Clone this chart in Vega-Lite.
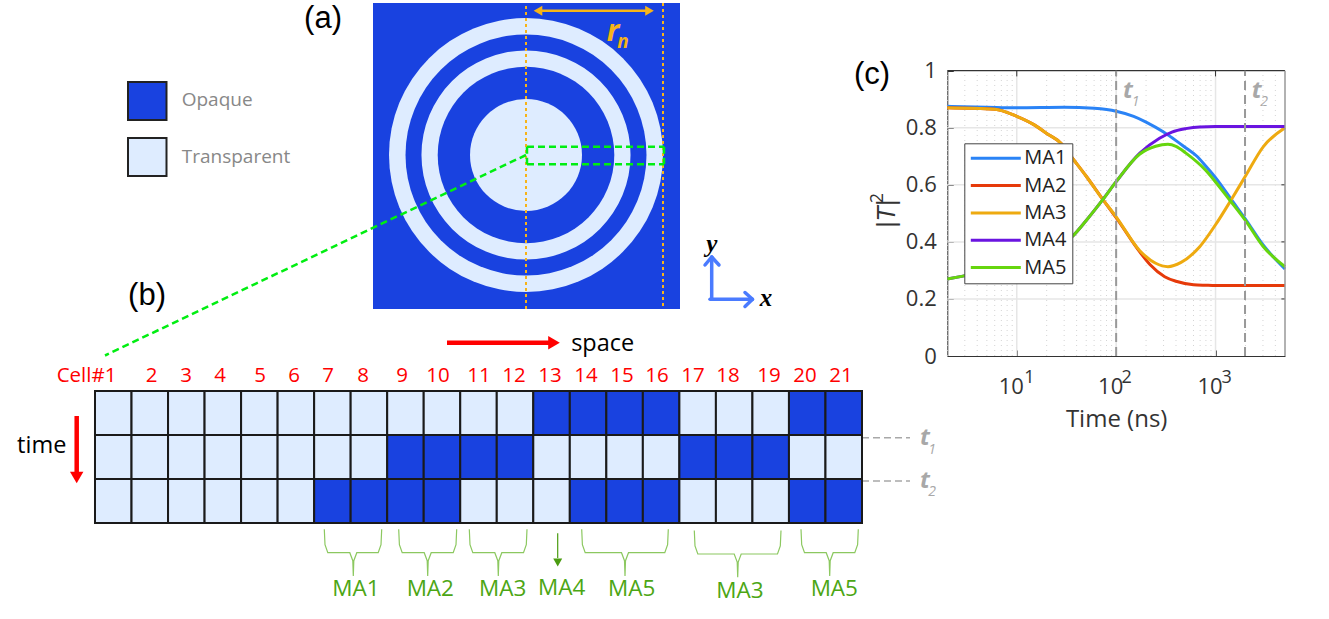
{"$schema":"https://vega.github.io/schema/vega-lite/v6.json","width":1329,"height":619,"padding":0,"autosize":{"type":"none"},"background":"white","config":{"view":{"stroke":null}},
"layer":[
{"layer":[
{"data":{"values":[{"state":"Opaque","x":373,"x2":680,"y":3,"y2":309}]},"mark":{"type":"rect"},"encoding":{"x":{"field":"x","type":"quantitative","scale":{"domain":[0,1329],"range":[0,1329],"nice":false},"axis":null},"x2":{"field":"x2"},"y":{"field":"y","type":"quantitative","scale":{"domain":[0,619],"range":[0,619],"nice":false},"axis":null},"y2":{"field":"y2"},"color":{"field":"state","type":"nominal","scale":{"domain":["Opaque","Transparent"],"range":["#1942E0","#DEECFF"]},"legend":null}}},
{"data":{"values":[{"state":"Opaque","x":128,"x2":166.5,"y":82,"y2":120},{"state":"Transparent","x":128,"x2":166.5,"y":138,"y2":176}]},"mark":{"type":"rect","stroke":"#222222","strokeWidth":2},"encoding":{"x":{"field":"x","type":"quantitative","axis":null},"x2":{"field":"x2"},"y":{"field":"y","type":"quantitative","axis":null},"y2":{"field":"y2"},"color":{"field":"state","type":"nominal","legend":null}}},
{"data":{"values":[{"state":"Transparent","x":526,"y":155,"r":137},{"state":"Opaque","x":526,"y":155,"r":120.5},{"state":"Transparent","x":526,"y":155,"r":104.5},{"state":"Opaque","x":526,"y":155,"r":88.3},{"state":"Transparent","x":526,"y":155,"r":56}]},"mark":{"type":"arc","theta":0,"theta2":6.2832},"encoding":{"x":{"field":"x","type":"quantitative","axis":null},"y":{"field":"y","type":"quantitative","axis":null},"radius":{"field":"r","type":"quantitative","stack":null,"scale":{"type":"linear","domain":[0,150],"range":[0,150]},"legend":null},"color":{"field":"state","type":"nominal","legend":null}}},
{"data":{"values":[{"x":526,"x2":526,"y":6,"y2":311},{"x":663,"x2":663,"y":3,"y2":309}]},"mark":{"type":"rule","color":"#F7B418","strokeWidth":2,"strokeDash":[3,3]},"encoding":{"x":{"field":"x","type":"quantitative","axis":null},"x2":{"field":"x2"},"y":{"field":"y","type":"quantitative","axis":null},"y2":{"field":"y2"}}},
{"data":{"values":[{"x":537,"x2":650,"y":10.7,"y2":10.7}]},"mark":{"type":"rule","color":"#F7B418","strokeWidth":2.4},"encoding":{"x":{"field":"x","type":"quantitative","axis":null},"x2":{"field":"x2"},"y":{"field":"y","type":"quantitative","axis":null},"y2":{"field":"y2"}}},
{"data":{"values":[{"x":538,"y":10.7,"shape":"triangle-left"},{"x":649.5,"y":10.7,"shape":"triangle-right"}]},"mark":{"type":"point","filled":true,"opacity":1,"color":"#F7B418","size":100},"encoding":{"x":{"field":"x","type":"quantitative","axis":null},"y":{"field":"y","type":"quantitative","axis":null},"shape":{"field":"shape","type":"nominal","scale":null}}},
{"data":{"values":[{"x":527,"x2":664,"y":146.7,"y2":146.7},{"x":527,"x2":664,"y":164.3,"y2":164.3},{"x":527,"x2":527,"y":146.7,"y2":164.3},{"x":664,"x2":664,"y":146.7,"y2":164.3},{"x":526,"x2":105,"y":155,"y2":355.5}]},"mark":{"type":"rule","color":"#00EE11","strokeWidth":2.5,"strokeDash":[7,4]},"encoding":{"x":{"field":"x","type":"quantitative","axis":null},"x2":{"field":"x2"},"y":{"field":"y","type":"quantitative","axis":null},"y2":{"field":"y2"}}},
{"data":{"values":[{"x":711.7,"x2":711.7,"y":299.3,"y2":257},{"x":710,"x2":752,"y":299.3,"y2":299.3},{"x":711.7,"x2":705,"y":257,"y2":265},{"x":711.7,"x2":719,"y":257,"y2":265},{"x":752.5,"x2":745,"y":299.3,"y2":292.5},{"x":752.5,"x2":745,"y":299.3,"y2":306.5}]},"mark":{"type":"rule","color":"#4A7BFF","strokeWidth":3.5,"strokeCap":"round"},"encoding":{"x":{"field":"x","type":"quantitative","axis":null},"x2":{"field":"x2"},"y":{"field":"y","type":"quantitative","axis":null},"y2":{"field":"y2"}}},
{"data":{"values":[{"x":447,"x2":549,"y":342.7,"y2":342.7},{"x":76.7,"x2":76.7,"y":416,"y2":472}]},"mark":{"type":"rule","color":"#FF0000","strokeWidth":4.5},"encoding":{"x":{"field":"x","type":"quantitative","axis":null},"x2":{"field":"x2"},"y":{"field":"y","type":"quantitative","axis":null},"y2":{"field":"y2"}}},
{"data":{"values":[{"x":554,"y":342.7,"shape":"triangle-right"},{"x":76.7,"y":477.5,"shape":"triangle-down"}]},"mark":{"type":"point","filled":true,"opacity":1,"color":"#FF0000","size":180},"encoding":{"x":{"field":"x","type":"quantitative","axis":null},"y":{"field":"y","type":"quantitative","axis":null},"shape":{"field":"shape","type":"nominal","scale":null}}},
{"data":{"values":[{"x":557.7,"x2":557.7,"y":533.3,"y2":558}]},"mark":{"type":"rule","color":"#4A9C10","strokeWidth":1.2},"encoding":{"x":{"field":"x","type":"quantitative","axis":null},"x2":{"field":"x2"},"y":{"field":"y","type":"quantitative","axis":null},"y2":{"field":"y2"}}},
{"data":{"values":[{"x":557.7,"y":562.5}]},"mark":{"type":"point","filled":true,"opacity":1,"color":"#4A9C10","shape":"triangle-down","size":81},"encoding":{"x":{"field":"x","type":"quantitative","axis":null},"y":{"field":"y","type":"quantitative","axis":null}}},
{"data":{"values":[{"x":862,"x2":910,"y":437.7,"y2":437.7},{"x":862,"x2":910,"y":481,"y2":481}]},"mark":{"type":"rule","color":"#A8A8A8","strokeWidth":1.5,"strokeDash":[7,4]},"encoding":{"x":{"field":"x","type":"quantitative","axis":null},"x2":{"field":"x2"},"y":{"field":"y","type":"quantitative","axis":null},"y2":{"field":"y2"}}},
{"data":{"values":[{"b":"a","i":0,"x":324.3,"y":529.3},{"b":"a","i":1,"x":325,"y":544.7},{"b":"a","i":2,"x":327.8,"y":552.7},{"b":"a","i":3,"x":349.8,"y":552.7},{"b":"a","i":4,"x":352.8,"y":560.7},{"b":"a","i":5,"x":353.3,"y":576},{"b":"a","i":6,"x":353.8,"y":560.7},{"b":"a","i":7,"x":356.8,"y":552.7},{"b":"a","i":8,"x":378.2,"y":552.7},{"b":"a","i":9,"x":381,"y":544.7},{"b":"a","i":10,"x":381.7,"y":529.3},
{"b":"b","i":0,"x":398.7,"y":529.3},{"b":"b","i":1,"x":399.4,"y":544.7},{"b":"b","i":2,"x":402.2,"y":552.7},{"b":"b","i":3,"x":424.2,"y":552.7},{"b":"b","i":4,"x":427.2,"y":560.7},{"b":"b","i":5,"x":427.7,"y":576},{"b":"b","i":6,"x":428.2,"y":560.7},{"b":"b","i":7,"x":431.2,"y":552.7},{"b":"b","i":8,"x":453.2,"y":552.7},{"b":"b","i":9,"x":456,"y":544.7},{"b":"b","i":10,"x":456.7,"y":529.3},
{"b":"c","i":0,"x":469.3,"y":529.3},{"b":"c","i":1,"x":470,"y":544.7},{"b":"c","i":2,"x":472.8,"y":552.7},{"b":"c","i":3,"x":494.8,"y":552.7},{"b":"c","i":4,"x":497.8,"y":560.7},{"b":"c","i":5,"x":498.3,"y":576},{"b":"c","i":6,"x":498.8,"y":560.7},{"b":"c","i":7,"x":501.8,"y":552.7},{"b":"c","i":8,"x":523.5,"y":552.7},{"b":"c","i":9,"x":526.3,"y":544.7},{"b":"c","i":10,"x":527,"y":529.3},
{"b":"d","i":0,"x":581.7,"y":529.3},{"b":"d","i":1,"x":582.4,"y":544.7},{"b":"d","i":2,"x":585.2,"y":552.7},{"b":"d","i":3,"x":621.5,"y":552.7},{"b":"d","i":4,"x":624.5,"y":560.7},{"b":"d","i":5,"x":625,"y":576},{"b":"d","i":6,"x":625.5,"y":560.7},{"b":"d","i":7,"x":628.5,"y":552.7},{"b":"d","i":8,"x":664.8,"y":552.7},{"b":"d","i":9,"x":667.6,"y":544.7},{"b":"d","i":10,"x":668.3,"y":529.3},
{"b":"e","i":0,"x":694.3,"y":530.5},{"b":"e","i":1,"x":695,"y":546},{"b":"e","i":2,"x":697.8,"y":554},{"b":"e","i":3,"x":734.2,"y":554},{"b":"e","i":4,"x":737.2,"y":562},{"b":"e","i":5,"x":737.7,"y":577.3},{"b":"e","i":6,"x":738.2,"y":562},{"b":"e","i":7,"x":741.2,"y":554},{"b":"e","i":8,"x":777.5,"y":554},{"b":"e","i":9,"x":780.3,"y":546},{"b":"e","i":10,"x":781,"y":530.5},
{"b":"f","i":0,"x":801,"y":529.3},{"b":"f","i":1,"x":801.7,"y":544.7},{"b":"f","i":2,"x":804.5,"y":552.7},{"b":"f","i":3,"x":826.2,"y":552.7},{"b":"f","i":4,"x":829.2,"y":560.7},{"b":"f","i":5,"x":829.7,"y":576},{"b":"f","i":6,"x":830.2,"y":560.7},{"b":"f","i":7,"x":833.2,"y":552.7},{"b":"f","i":8,"x":854.8,"y":552.7},{"b":"f","i":9,"x":857.6,"y":544.7},{"b":"f","i":10,"x":858.3,"y":529.3}]},"mark":{"type":"line","color":"#8CC860","strokeWidth":1.2},"encoding":{"x":{"field":"x","type":"quantitative","axis":null},"y":{"field":"y","type":"quantitative","axis":null},"detail":{"field":"b"},"order":{"field":"i"}}},
{"data":{"values":[{"l":"Cell#1","x":86.5,"y":376},{"l":"2","x":151.7,"y":376},{"l":"3","x":186,"y":376},{"l":"4","x":220,"y":376},{"l":"5","x":260,"y":376},{"l":"6","x":294,"y":376},{"l":"7","x":328,"y":376},{"l":"8","x":363,"y":376},{"l":"9","x":402,"y":376},{"l":"10","x":438,"y":376},{"l":"11","x":479,"y":376},{"l":"12","x":514,"y":376},{"l":"13","x":550,"y":376},{"l":"14","x":586,"y":376},{"l":"15","x":622,"y":376},{"l":"16","x":657,"y":376},{"l":"17","x":693,"y":376},{"l":"18","x":728,"y":376},{"l":"19","x":769,"y":376},{"l":"20","x":805,"y":376},{"l":"21","x":841,"y":376}]},"mark":{"type":"text","font":"Open Sans","fontSize":20.5,"color":"#FF0000"},"encoding":{"x":{"field":"x","type":"quantitative","axis":null},"y":{"field":"y","type":"quantitative","axis":null},"text":{"field":"l"}}},
{"data":{"values":[{"l":"MA1","x":356,"y":589.3},{"l":"MA2","x":430.3,"y":589.3},{"l":"MA3","x":502.7,"y":589.3},{"l":"MA4","x":561.7,"y":587.7},{"l":"MA5","x":631.7,"y":589.3},{"l":"MA3","x":740,"y":590.7},{"l":"MA5","x":834.3,"y":589.3}]},"mark":{"type":"text","font":"Open Sans","fontSize":22.5,"color":"#4CA614"},"encoding":{"x":{"field":"x","type":"quantitative","axis":null},"y":{"field":"y","type":"quantitative","axis":null},"text":{"field":"l"}}},
{"data":{"values":[{"l":"Opaque","x":181.7,"y":99.5},{"l":"Transparent","x":181.7,"y":156.7}]},"mark":{"type":"text","font":"Open Sans","fontSize":19,"color":"#888888","align":"left"},"encoding":{"x":{"field":"x","type":"quantitative","axis":null},"y":{"field":"y","type":"quantitative","axis":null},"text":{"field":"l"}}},
{"data":{"values":[{"l":"space","x":602.7,"y":344},{"l":"time","x":41.7,"y":445.7}]},"mark":{"type":"text","font":"Open Sans","fontSize":23.5,"color":"#000000"},"encoding":{"x":{"field":"x","type":"quantitative","axis":null},"y":{"field":"y","type":"quantitative","axis":null},"text":{"field":"l"}}},
{"data":{"values":[{"l":"(a)","x":323,"y":19},{"l":"(b)","x":147,"y":296},{"l":"(c)","x":872,"y":75}]},"mark":{"type":"text","font":"Liberation Sans","fontSize":31,"color":"#000000"},"encoding":{"x":{"field":"x","type":"quantitative","axis":null},"y":{"field":"y","type":"quantitative","axis":null},"text":{"field":"l"}}},
{"data":{"values":[{"l":"r","x":613,"y":32}]},"mark":{"type":"text","font":"Open Sans","fontStyle":"italic","fontWeight":"bold","fontSize":30,"color":"#F7B418"},"encoding":{"x":{"field":"x","type":"quantitative","axis":null},"y":{"field":"y","type":"quantitative","axis":null},"text":{"field":"l"}}},
{"data":{"values":[{"l":"n","x":623,"y":41.5}]},"mark":{"type":"text","font":"Open Sans","fontStyle":"italic","fontWeight":"bold","fontSize":19,"color":"#F7B418"},"encoding":{"x":{"field":"x","type":"quantitative","axis":null},"y":{"field":"y","type":"quantitative","axis":null},"text":{"field":"l"}}},
{"data":{"values":[{"l":"y","x":711.7,"y":244},{"l":"x","x":766,"y":298}]},"mark":{"type":"text","font":"Liberation Serif","fontStyle":"italic","fontWeight":"bold","fontSize":25,"color":"#000000"},"encoding":{"x":{"field":"x","type":"quantitative","axis":null},"y":{"field":"y","type":"quantitative","axis":null},"text":{"field":"l"}}},
{"data":{"values":[{"l":"t","x":925,"y":438},{"l":"t","x":925,"y":480.7},{"l":"t","x":1128,"y":91},{"l":"t","x":1256.7,"y":91}]},"mark":{"type":"text","font":"Open Sans","fontStyle":"italic","fontWeight":"bold","fontSize":24,"color":"#A8A8A8"},"encoding":{"x":{"field":"x","type":"quantitative","axis":null},"y":{"field":"y","type":"quantitative","axis":null},"text":{"field":"l"}}},
{"data":{"values":[{"l":"1","x":932,"y":450},{"l":"2","x":932,"y":492},{"l":"1","x":1135.7,"y":101.7},{"l":"2","x":1264,"y":101.7}]},"mark":{"type":"text","font":"Open Sans","fontStyle":"italic","fontSize":14,"color":"#A8A8A8"},"encoding":{"x":{"field":"x","type":"quantitative","axis":null},"y":{"field":"y","type":"quantitative","axis":null},"text":{"field":"l"}}},
{"data":{"values":[{"l":"1","x":1029.5,"y":378},{"l":"2","x":1126.7,"y":378},{"l":"3","x":1226.7,"y":378}]},"mark":{"type":"text","font":"Open Sans","fontSize":18,"color":"#333333"},"encoding":{"x":{"field":"x","type":"quantitative","axis":null},"y":{"field":"y","type":"quantitative","axis":null},"text":{"field":"l"}}},
{"data":{"values":[{"l":"2","x":878,"y":198}]},"mark":{"type":"text","font":"Open Sans","fontSize":18,"color":"#333333","angle":270},"encoding":{"x":{"field":"x","type":"quantitative","axis":null},"y":{"field":"y","type":"quantitative","axis":null},"text":{"field":"l"}}}
]},
{"data":{"values":[
{"c":1,"r":0,"state":"Transparent"},{"c":2,"r":0,"state":"Transparent"},{"c":3,"r":0,"state":"Transparent"},{"c":4,"r":0,"state":"Transparent"},{"c":5,"r":0,"state":"Transparent"},{"c":6,"r":0,"state":"Transparent"},{"c":7,"r":0,"state":"Transparent"},{"c":8,"r":0,"state":"Transparent"},{"c":9,"r":0,"state":"Transparent"},{"c":10,"r":0,"state":"Transparent"},{"c":11,"r":0,"state":"Transparent"},{"c":12,"r":0,"state":"Transparent"},{"c":13,"r":0,"state":"Opaque"},{"c":14,"r":0,"state":"Opaque"},{"c":15,"r":0,"state":"Opaque"},{"c":16,"r":0,"state":"Opaque"},{"c":17,"r":0,"state":"Transparent"},{"c":18,"r":0,"state":"Transparent"},{"c":19,"r":0,"state":"Transparent"},{"c":20,"r":0,"state":"Opaque"},{"c":21,"r":0,"state":"Opaque"},
{"c":1,"r":1,"state":"Transparent"},{"c":2,"r":1,"state":"Transparent"},{"c":3,"r":1,"state":"Transparent"},{"c":4,"r":1,"state":"Transparent"},{"c":5,"r":1,"state":"Transparent"},{"c":6,"r":1,"state":"Transparent"},{"c":7,"r":1,"state":"Transparent"},{"c":8,"r":1,"state":"Transparent"},{"c":9,"r":1,"state":"Opaque"},{"c":10,"r":1,"state":"Opaque"},{"c":11,"r":1,"state":"Opaque"},{"c":12,"r":1,"state":"Opaque"},{"c":13,"r":1,"state":"Transparent"},{"c":14,"r":1,"state":"Transparent"},{"c":15,"r":1,"state":"Transparent"},{"c":16,"r":1,"state":"Transparent"},{"c":17,"r":1,"state":"Opaque"},{"c":18,"r":1,"state":"Opaque"},{"c":19,"r":1,"state":"Opaque"},{"c":20,"r":1,"state":"Transparent"},{"c":21,"r":1,"state":"Transparent"},
{"c":1,"r":2,"state":"Transparent"},{"c":2,"r":2,"state":"Transparent"},{"c":3,"r":2,"state":"Transparent"},{"c":4,"r":2,"state":"Transparent"},{"c":5,"r":2,"state":"Transparent"},{"c":6,"r":2,"state":"Transparent"},{"c":7,"r":2,"state":"Opaque"},{"c":8,"r":2,"state":"Opaque"},{"c":9,"r":2,"state":"Opaque"},{"c":10,"r":2,"state":"Opaque"},{"c":11,"r":2,"state":"Transparent"},{"c":12,"r":2,"state":"Transparent"},{"c":13,"r":2,"state":"Transparent"},{"c":14,"r":2,"state":"Opaque"},{"c":15,"r":2,"state":"Opaque"},{"c":16,"r":2,"state":"Opaque"},{"c":17,"r":2,"state":"Transparent"},{"c":18,"r":2,"state":"Transparent"},{"c":19,"r":2,"state":"Transparent"},{"c":20,"r":2,"state":"Opaque"},{"c":21,"r":2,"state":"Opaque"}]},
"mark":{"type":"rect","stroke":"#1A1A1A","strokeWidth":2},"encoding":{"x":{"field":"c","type":"ordinal","sort":"ascending","scale":{"type":"band","range":[95,862],"paddingInner":0,"paddingOuter":0},"axis":null},"y":{"field":"r","type":"ordinal","sort":"ascending","scale":{"type":"band","range":[391,523],"paddingInner":0,"paddingOuter":0},"axis":null},"color":{"field":"state","type":"nominal","scale":{"domain":["Opaque","Transparent"],"range":["#1942E0","#DEECFF"]},"legend":null}}},
{"layer":[
{"data":{"values":[{"t":2},{"t":3},{"t":4},{"t":5},{"t":6},{"t":7},{"t":8},{"t":9},{"t":20},{"t":30},{"t":40},{"t":50},{"t":60},{"t":70},{"t":80},{"t":90},{"t":200},{"t":300},{"t":400},{"t":500},{"t":600},{"t":700},{"t":800},{"t":900},{"t":2000},{"t":3000},{"t":4000}]},"mark":{"type":"rule","color":"#D4D4D4","strokeWidth":1,"strokeDash":[1,4]},"encoding":{"x":{"field":"t","type":"quantitative","scale":{"type":"log","domain":[2,5000],"range":[947.3,1285],"nice":false},"axis":{"orient":"bottom","offset":-263,"values":[10,100,1000],"labelExpr":"'10'","labelFont":"Open Sans","labelFontSize":22,"labelColor":"#333333","labelOffset":-6,"labelPadding":26,"tickSize":-6,"tickColor":"#333333","domain":true,"domainColor":"#333333","grid":false,"title":"Time (ns)","titleFont":"Open Sans","titleFontSize":24,"titleFontWeight":"normal","titleColor":"#333333","titlePadding":10}},"y":{"datum":0,"type":"quantitative","scale":{"domain":[0,1],"range":[356,70.7],"nice":false},"axis":{"orient":"left","offset":-947.3,"values":[0,0.2,0.4,0.6,0.8,1],"format":"~g","labelFont":"Open Sans","labelFontSize":22,"labelColor":"#333333","labelPadding":17,"tickSize":-6,"tickColor":"#333333","domain":true,"domainColor":"#333333","grid":false,"title":"|T|","titleFont":"Liberation Sans","titleFontStyle":"italic","titleFontSize":25,"titleFontWeight":"normal","titleColor":"#333333","titlePadding":6}},"y2":{"datum":1}}},
{"data":{"values":[{"t":10},{"t":100},{"t":1000}]},"mark":{"type":"rule","color":"#E6E6E6","strokeWidth":1.5},"encoding":{"x":{"field":"t","type":"quantitative"},"y":{"datum":0,"type":"quantitative"},"y2":{"datum":1}}},
{"data":{"values":[{"v":0.2},{"v":0.4},{"v":0.6},{"v":0.8}]},"mark":{"type":"rule","color":"#E6E6E6","strokeWidth":1.5},"encoding":{"y":{"field":"v","type":"quantitative"},"x":{"datum":2,"type":"quantitative"},"x2":{"datum":5000}}},
{"data":{"values":[{"t":10},{"t":100},{"t":1000}]},"mark":{"type":"rule","color":"#333333","strokeWidth":1},"encoding":{"x":{"field":"t","type":"quantitative"},"y":{"datum":1,"type":"quantitative"},"y2":{"datum":0.98}}},
{"data":{"values":[{"v":0.2},{"v":0.4},{"v":0.6},{"v":0.8}]},"mark":{"type":"rule","color":"#333333","strokeWidth":1},"encoding":{"y":{"field":"v","type":"quantitative"},"x":{"datum":5000,"type":"quantitative"},"x2":{"datum":4600}}},
{"data":{"values":[{"x":2,"x2":5000,"y":1,"y2":1}]},"mark":{"type":"rule","color":"#333333","strokeWidth":1.2},"encoding":{"x":{"field":"x","type":"quantitative"},"x2":{"field":"x2"},"y":{"field":"y","type":"quantitative"},"y2":{"field":"y2"}}},
{"data":{"values":[
{"s":"MA1","t":2,"v":0.875},{"s":"MA1","t":5,"v":0.872},{"s":"MA1","t":10,"v":0.87},{"s":"MA1","t":30,"v":0.872},{"s":"MA1","t":60,"v":0.868},{"s":"MA1","t":100,"v":0.858},{"s":"MA1","t":150,"v":0.84},{"s":"MA1","t":200,"v":0.82},{"s":"MA1","t":300,"v":0.785},{"s":"MA1","t":400,"v":0.755},{"s":"MA1","t":500,"v":0.73},{"s":"MA1","t":650,"v":0.7},{"s":"MA1","t":800,"v":0.665},{"s":"MA1","t":1000,"v":0.625},{"s":"MA1","t":1500,"v":0.54},{"s":"MA1","t":2000,"v":0.48},{"s":"MA1","t":3000,"v":0.39},{"s":"MA1","t":5000,"v":0.305},
{"s":"MA2","t":2,"v":0.87},{"s":"MA2","t":6,"v":0.865},{"s":"MA2","t":10,"v":0.84},{"s":"MA2","t":15,"v":0.81},{"s":"MA2","t":20,"v":0.78},{"s":"MA2","t":28,"v":0.745},{"s":"MA2","t":36,"v":0.695},{"s":"MA2","t":50,"v":0.63},{"s":"MA2","t":73,"v":0.55},{"s":"MA2","t":100,"v":0.485},{"s":"MA2","t":172,"v":0.366},{"s":"MA2","t":220,"v":0.32},{"s":"MA2","t":308,"v":0.278},{"s":"MA2","t":400,"v":0.262},{"s":"MA2","t":600,"v":0.25},{"s":"MA2","t":800,"v":0.248},{"s":"MA2","t":1000,"v":0.247},{"s":"MA2","t":5000,"v":0.247},
{"s":"MA3","t":2,"v":0.87},{"s":"MA3","t":6,"v":0.865},{"s":"MA3","t":10,"v":0.84},{"s":"MA3","t":15,"v":0.81},{"s":"MA3","t":20,"v":0.78},{"s":"MA3","t":28,"v":0.745},{"s":"MA3","t":36,"v":0.695},{"s":"MA3","t":50,"v":0.63},{"s":"MA3","t":73,"v":0.55},{"s":"MA3","t":100,"v":0.488},{"s":"MA3","t":172,"v":0.37},{"s":"MA3","t":250,"v":0.325},{"s":"MA3","t":332,"v":0.313},{"s":"MA3","t":450,"v":0.328},{"s":"MA3","t":693,"v":0.383},{"s":"MA3","t":1000,"v":0.46},{"s":"MA3","t":1470,"v":0.553},{"s":"MA3","t":1980,"v":0.628},{"s":"MA3","t":3030,"v":0.734},{"s":"MA3","t":5000,"v":0.8},
{"s":"MA4","t":2,"v":0.27},{"s":"MA4","t":2.87,"v":0.28},{"s":"MA4","t":5,"v":0.295},{"s":"MA4","t":10,"v":0.32},{"s":"MA4","t":20,"v":0.365},{"s":"MA4","t":36,"v":0.418},{"s":"MA4","t":50,"v":0.475},{"s":"MA4","t":73,"v":0.547},{"s":"MA4","t":100,"v":0.611},{"s":"MA4","t":172,"v":0.71},{"s":"MA4","t":273,"v":0.763},{"s":"MA4","t":364,"v":0.785},{"s":"MA4","t":500,"v":0.797},{"s":"MA4","t":693,"v":0.803},{"s":"MA4","t":1000,"v":0.804},{"s":"MA4","t":5000,"v":0.804},
{"s":"MA5","t":2,"v":0.27},{"s":"MA5","t":2.87,"v":0.28},{"s":"MA5","t":5,"v":0.295},{"s":"MA5","t":10,"v":0.32},{"s":"MA5","t":20,"v":0.365},{"s":"MA5","t":36,"v":0.418},{"s":"MA5","t":50,"v":0.475},{"s":"MA5","t":73,"v":0.547},{"s":"MA5","t":100,"v":0.611},{"s":"MA5","t":172,"v":0.707},{"s":"MA5","t":250,"v":0.735},{"s":"MA5","t":332,"v":0.742},{"s":"MA5","t":400,"v":0.735},{"s":"MA5","t":500,"v":0.712},{"s":"MA5","t":800,"v":0.65},{"s":"MA5","t":1000,"v":0.61},{"s":"MA5","t":1400,"v":0.545},{"s":"MA5","t":1980,"v":0.477},{"s":"MA5","t":3030,"v":0.383},{"s":"MA5","t":5000,"v":0.313}]},
"mark":{"type":"line","strokeWidth":3,"interpolate":"monotone"},"encoding":{"x":{"field":"t","type":"quantitative"},"y":{"field":"v","type":"quantitative"},"color":{"field":"s","type":"nominal","scale":{"domain":["MA1","MA2","MA3","MA4","MA5"],"range":["#2A83F6","#E63A0A","#EEAA10","#6A14E0","#66D60E"]},"legend":{"orient":"none","legendX":964.3,"legendY":143.3,"title":null,"fillColor":"white","strokeColor":"#444444","padding":5,"symbolType":"stroke","symbolSize":2500,"symbolStrokeWidth":3,"clipHeight":20,"rowPadding":7.3,"labelFont":"Open Sans","labelFontSize":20,"labelColor":"#222222","labelOffset":2}}}},
{"data":{"values":[{"t":100},{"t":1980}]},"mark":{"type":"rule","color":"#999999","strokeWidth":2,"strokeDash":[9,5]},"encoding":{"x":{"field":"t","type":"quantitative"},"y":{"datum":0,"type":"quantitative"},"y2":{"datum":1}}},
{"data":{"values":[{"t":5000}]},"mark":{"type":"rule","color":"#999999","strokeWidth":1.5},"encoding":{"x":{"field":"t","type":"quantitative"},"y":{"datum":0,"type":"quantitative"},"y2":{"datum":1}}}
]}
],
"resolve":{"scale":{"x":"independent","y":"independent","color":"independent"},"axis":{"x":"independent","y":"independent"},"legend":{"color":"independent"}}}
